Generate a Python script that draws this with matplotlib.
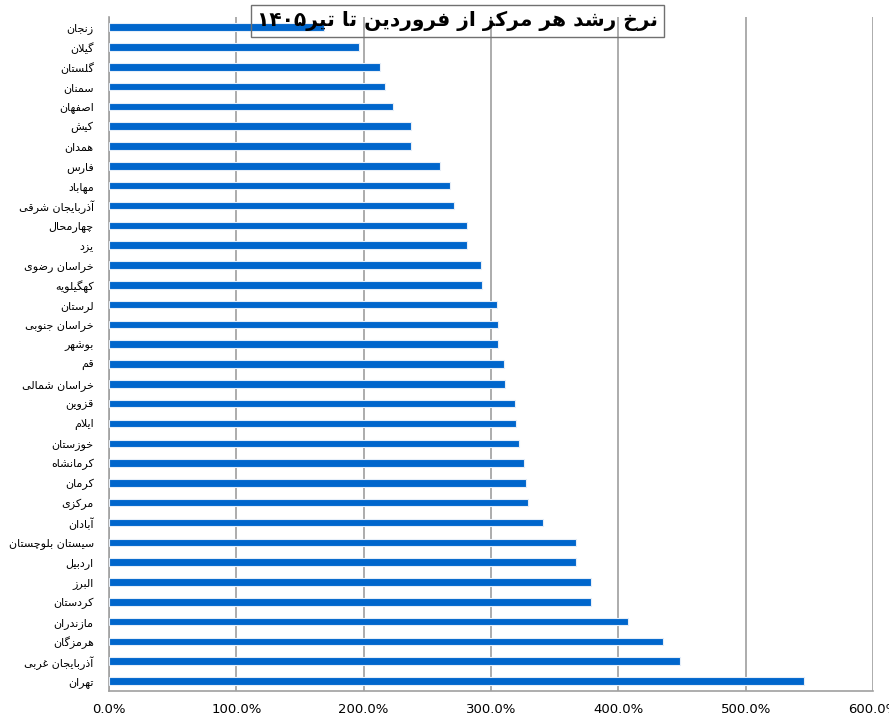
import re
import numpy as np
import matplotlib
matplotlib.use('Agg')
import matplotlib.pyplot as plt
from matplotlib.ticker import PercentFormatter

# ---- data (top to bottom) ----
provinces = ['زنجان', 'گیلان', 'گلستان', 'سمنان', 'اصفهان', 'کیش', 'همدان',
             'فارس', 'مهاباد', 'آذربایجان شرقی', 'چهارمحال', 'یزد',
             'خراسان رضوی', 'کهگیلویه', 'لرستان', 'خراسان جنوبی', 'بوشهر',
             'قم', 'خراسان شمالی', 'قزوین', 'ایلام', 'خوزستان', 'کرمانشاه',
             'کرمان', 'مرکزی', 'آبادان', 'سیستان بلوچستان', 'اردبیل', 'البرز',
             'کردستان', 'مازندران', 'هرمزگان', 'آذربایجان غربی', 'تهران']
growth = [1.688, 1.961, 2.129, 2.169, 2.232, 2.374, 2.374,
          2.603, 2.676, 2.713, 2.815, 2.815,
          2.918, 2.926, 3.044, 3.052, 3.057,
          3.100, 3.107, 3.186, 3.194, 3.218, 3.257,
          3.273, 3.294, 3.405, 3.665, 3.665, 3.785,
          3.785, 4.077, 4.353, 4.487, 5.457]
x_ticks = [0, 1, 2, 3, 4, 5, 6]
title = 'نرخ رشد هر مرکز از فروردین تا تیر۱۴۰۵'

# ---- minimal arabic/persian shaping (matplotlib has no bidi) ----
# letter: (isolated, final, initial, medial); None where the letter only joins right
FORMS = {
    'ا': ('\uFE8D', '\uFE8E', None, None),
    'آ': ('\uFE81', '\uFE82', None, None),
    'ب': ('\uFE8F', '\uFE90', '\uFE91', '\uFE92'),
    'پ': ('\uFB56', '\uFB57', '\uFB58', '\uFB59'),
    'ت': ('\uFE95', '\uFE96', '\uFE97', '\uFE98'),
    'ج': ('\uFE9D', '\uFE9E', '\uFE9F', '\uFEA0'),
    'چ': ('\uFB7A', '\uFB7B', '\uFB7C', '\uFB7D'),
    'ح': ('\uFEA1', '\uFEA2', '\uFEA3', '\uFEA4'),
    'خ': ('\uFEA5', '\uFEA6', '\uFEA7', '\uFEA8'),
    'د': ('\uFEA9', '\uFEAA', None, None),
    'ذ': ('\uFEAB', '\uFEAC', None, None),
    'ر': ('\uFEAD', '\uFEAE', None, None),
    'ز': ('\uFEAF', '\uFEB0', None, None),
    'ژ': ('\uFB8A', '\uFB8B', None, None),
    'س': ('\uFEB1', '\uFEB2', '\uFEB3', '\uFEB4'),
    'ش': ('\uFEB5', '\uFEB6', '\uFEB7', '\uFEB8'),
    'ص': ('\uFEB9', '\uFEBA', '\uFEBB', '\uFEBC'),
    'ض': ('\uFEBD', '\uFEBE', '\uFEBF', '\uFEC0'),
    'غ': ('\uFECD', '\uFECE', '\uFECF', '\uFED0'),
    'ف': ('\uFED1', '\uFED2', '\uFED3', '\uFED4'),
    'ق': ('\uFED5', '\uFED6', '\uFED7', '\uFED8'),
    'ک': ('\uFB8E', '\uFB8F', '\uFB90', '\uFB91'),
    'گ': ('\uFB92', '\uFB93', '\uFB94', '\uFB95'),
    'ل': ('\uFEDD', '\uFEDE', '\uFEDF', '\uFEE0'),
    'م': ('\uFEE1', '\uFEE2', '\uFEE3', '\uFEE4'),
    'ن': ('\uFEE5', '\uFEE6', '\uFEE7', '\uFEE8'),
    'ه': ('\uFEE9', '\uFEEA', '\uFEEB', '\uFEEC'),
    'و': ('\uFEED', '\uFEEE', None, None),
    'ی': ('\uFBFC', '\uFBFD', '\uFBFE', '\uFBFF'),
}


def shape(text):
    # lam-alef ligature first
    text = text.replace('لا', '\x01')
    chars = list(text)
    out = []
    for i, c in enumerate(chars):
        prev = chars[i - 1] if i > 0 else None
        nxt = chars[i + 1] if i + 1 < len(chars) else None
        join_prev = prev in FORMS and FORMS[prev][2] is not None
        if c == '\x01':
            out.append('\uFEFC' if join_prev else '\uFEFB')
            continue
        if c not in FORMS:
            out.append(c)
            continue
        iso, fin, ini, med = FORMS[c]
        join_next = ini is not None and (nxt in FORMS or nxt == '\x01')
        if join_prev and join_next:
            out.append(med)
        elif join_prev:
            out.append(fin)
        elif join_next:
            out.append(ini)
        else:
            out.append(iso)
    vis = ''.join(out)[::-1]
    # digits keep left-to-right order
    return re.sub('[۰-۹0-9]+', lambda m: m.group(0)[::-1], vis)


plt.rcParams['font.family'] = ['DejaVu Sans']

fig = plt.figure(figsize=(8.89, 7.19), dpi=100)
ax = fig.add_axes([0.1226, 0.039, 0.8594, 0.937])

y = np.arange(len(provinces))
ax.barh(y, growth, height=0.38, color='#0066CC', edgecolor='#E6EEF8',
        linewidth=0.8, zorder=3)
ax.set_ylim(len(provinces) - 0.5, -0.5)
ax.set_xlim(0, 6)
ax.set_yticks(y)
ax.set_yticklabels([shape(p) for p in provinces], fontsize=8)
ax.set_xticks(x_ticks)
ax.xaxis.set_major_formatter(PercentFormatter(1.0, decimals=1))
ax.tick_params(axis='x', length=0, pad=9, labelsize=9.5)
ax.tick_params(axis='y', length=0, pad=11)

ax.grid(axis='x', color='#A6A6A6', linewidth=1.3, zorder=0)
for s in ['top', 'right']:
    ax.spines[s].set_visible(False)
for s in ['left', 'bottom']:
    ax.spines[s].set_color('#A0A0A0')
    ax.spines[s].set_linewidth(1.2)

fig.text(0.515, 0.9705, shape(title), fontsize=14.5, fontweight='bold',
         ha='center', va='center',
         bbox=dict(boxstyle='square,pad=0.3', facecolor='none',
                   edgecolor='#707070', linewidth=1.0))

fig.savefig('out.png', dpi=100)
